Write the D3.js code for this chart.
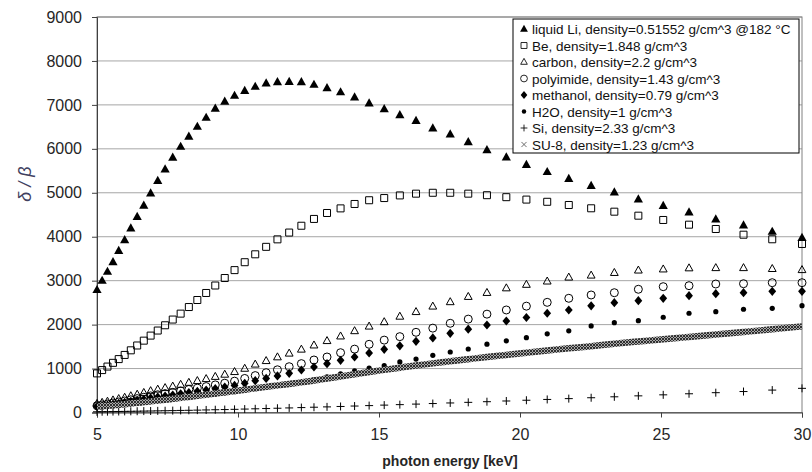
<!DOCTYPE html>
<html>
<head>
<meta charset="utf-8">
<script src="https://cdn.jsdelivr.net/npm/d3@7"></script>
<style>
  body { margin: 0; background: #fff; }
  text { font-family: "Liberation Sans Narrow", "Liberation Sans", Arial, sans-serif; }
</style>
</head>
<body>
<svg id="chart" width="812" height="472"></svg>
<script>
// photon energies [keV] of the sampled points
let energy = [5.000, 5.182, 5.371, 5.567, 5.770, 5.981, 6.199, 6.425, 6.659, 6.902,
  7.154, 7.415, 7.686, 7.966, 8.257, 8.558, 8.871, 9.194, 9.530, 9.877,
  10.238, 10.611, 10.998, 11.399, 11.815, 12.247, 12.694, 13.157, 13.637, 14.134,
  14.650, 15.185, 15.739, 16.313, 16.908, 17.526, 18.165, 18.828, 19.515, 20.227,
  20.965, 21.730, 22.523, 23.345, 24.197, 25.079, 25.994, 26.943, 27.926, 28.945, 30.000];

let liquidLi = [2790, 3000, 3205, 3425, 3680, 3925, 4190, 4455, 4710, 4990,
  5275, 5535, 5800, 6050, 6280, 6505, 6710, 6915, 7075, 7210,
  7320, 7415, 7490, 7520, 7525, 7520, 7460, 7385, 7290, 7175,
  7035, 6905, 6770, 6640, 6470, 6330, 6155, 5975, 5810, 5635,
  5475, 5320, 5160, 5010, 4852, 4706, 4556, 4397, 4260, 4115, 3978];
let be = [890, 965, 1045, 1130, 1215, 1310, 1415, 1525, 1635, 1750,
  1865, 1985, 2115, 2250, 2400, 2560, 2720, 2890, 3060, 3240,
  3420, 3600, 3770, 3940, 4095, 4250, 4405, 4540, 4645, 4745,
  4830, 4880, 4940, 4980, 5000, 5000, 4980, 4945, 4900, 4845,
  4795, 4722, 4647, 4570, 4479, 4381, 4274, 4176, 4046, 3942, 3835];
let carbon = [200, 225, 250, 280, 310, 340, 375, 410, 450, 490,
  525, 560, 595, 635, 680, 720, 765, 815, 865, 925,
  1000, 1095, 1175, 1260, 1345, 1435, 1530, 1630, 1735, 1855,
  1960, 2060, 2185, 2290, 2415, 2515, 2635, 2725, 2830, 2910,
  2985, 3075, 3120, 3180, 3235, 3260, 3285, 3290, 3290, 3270, 3245];
let polyimide = [155, 173, 193, 216, 239, 262, 289, 316, 347, 377,
  404, 431, 458, 489, 524, 555, 590, 628, 667, 713,
  775, 840, 905, 972, 1042, 1112, 1195, 1263, 1361, 1442,
  1552, 1647, 1726, 1825, 1920, 2030, 2125, 2238, 2333, 2420,
  2507, 2599, 2674, 2726, 2804, 2863, 2886, 2924, 2931, 2954, 2954];
let methanol = [138, 153, 170, 190, 210, 230, 253, 277, 302, 328,
  352, 375, 398, 424, 452, 480, 510, 543, 578, 617,
  665, 725, 775, 833, 892, 967, 1035, 1110, 1187, 1263,
  1354, 1438, 1517, 1620, 1696, 1802, 1897, 1991, 2082, 2162,
  2258, 2333, 2428, 2499, 2544, 2599, 2658, 2704, 2726, 2758, 2758];
let h2o = [120, 132, 145, 158, 172, 186, 200, 215, 231, 248,
  266, 285, 305, 326, 348, 371, 395, 420, 447, 475,
  505, 540, 575, 612, 650, 695, 748, 810, 880, 950,
  1012, 1065, 1150, 1215, 1300, 1377, 1445, 1555, 1630, 1702,
  1790, 1858, 1969, 2044, 2089, 2167, 2258, 2294, 2349, 2371, 2431];
let si = [16, 18, 19, 21, 23, 25, 27, 29, 32, 34,
  37, 40, 43, 47, 50, 54, 58, 63, 67, 72,
  78, 84, 90, 97, 104, 112, 120, 128, 137, 147,
  157, 168, 179, 191, 204, 217, 231, 246, 262, 279,
  297, 316, 336, 357, 379, 402, 426, 451, 477, 510, 550];
let su8 = [130, 140, 152, 165, 178, 190, 204, 219, 236, 253,
  271, 290, 311, 333, 355, 380, 405, 431, 459, 488,
  518, 550, 583, 617, 650, 685, 727, 772, 820, 870,
  920, 970, 1020, 1070, 1118, 1165, 1213, 1262, 1310, 1360,
  1410, 1460, 1510, 1565, 1615, 1665, 1720, 1775, 1830, 1895, 1960];

let xTicks = [5, 10, 15, 20, 25, 30];
let yTicks = [0, 1000, 2000, 3000, 4000, 5000, 6000, 7000, 8000, 9000];

// marker shapes
let shapes = {
  triFill: { d: 'M0,-5L4.6,3.2L-4.6,3.2Z', fill: '#000', stroke: 'none' },
  square: { d: 'M-3.5,-3.5H3.5V3.5H-3.5Z', fill: 'none', stroke: '#000' },
  triOpen: { d: 'M0,-4.3L3.9,2.7L-3.9,2.7Z', fill: 'none', stroke: '#000' },
  circle: { d: 'M4,0A4,4 0 1,1 -4,0A4,4 0 1,1 4,0Z', fill: 'none', stroke: '#000' },
  diamond: { d: 'M0,-4.6L3.9,0L0,4.6L-3.9,0Z', fill: '#000', stroke: 'none' },
  dot: { d: 'M2.6,0A2.6,2.6 0 1,1 -2.6,0A2.6,2.6 0 1,1 2.6,0Z', fill: '#000', stroke: 'none' },
  plus: { d: 'M-4,0H4M0,-4V4', fill: 'none', stroke: '#000' },
  cross: { d: 'M-3,-3L3,3M-3,3L3,-3', fill: 'none', stroke: '#555' }
};

let series = [
  { name: 'liquid Li, density=0.51552 g/cm^3 @182 °C', values: liquidLi, shape: 'triFill' },
  { name: 'Be, density=1.848 g/cm^3', values: be, shape: 'square' },
  { name: 'carbon, density=2.2 g/cm^3', values: carbon, shape: 'triOpen' },
  { name: 'polyimide, density=1.43 g/cm^3', values: polyimide, shape: 'circle' },
  { name: 'methanol, density=0.79 g/cm^3', values: methanol, shape: 'diamond' },
  { name: 'H2O, density=1 g/cm^3', values: h2o, shape: 'dot' },
  { name: 'Si, density=2.33 g/cm^3', values: si, shape: 'plus' },
  { name: 'SU-8, density=1.23 g/cm^3', values: su8, shape: 'cross', band: true }
];

let plotL = 97, plotR = 802, plotT = 17, plotB = 412.5;
let svg = d3.select('#chart');

let x = d3.scaleLinear().domain([5, 30]).range([plotL, plotR]);
let y = d3.scaleLinear().domain([0, 9000]).range([plotB, plotT]);

// cross hatch used for the dense SU-8 band
let pat = svg.append('defs')
  .append('pattern')
  .attr('id', 'xhatch')
  .attr('patternUnits', 'userSpaceOnUse')
  .attr('width', 3)
  .attr('height', 3);
pat.append('rect').attr('width', 3).attr('height', 3).attr('fill', '#a8a8a8');
pat.append('path')
  .attr('d', 'M0,0L3,3M0,3L3,0')
  .attr('stroke', '#222')
  .attr('stroke-width', 0.9);

// gridlines
svg.append('g')
  .selectAll('line')
  .data(yTicks.slice(1))
  .enter()
  .append('line')
  .attr('x1', plotL)
  .attr('x2', plotR)
  .attr('y1', d => y(d))
  .attr('y2', d => y(d))
  .attr('stroke', '#a6a6a6')
  .attr('stroke-width', 1);

// plot border
svg.append('rect')
  .attr('x', plotL)
  .attr('y', plotT)
  .attr('width', plotR - plotL)
  .attr('height', plotB - plotT)
  .attr('fill', 'none')
  .attr('stroke', '#808080');

// axes
let xAxis = svg.append('g')
  .attr('transform', `translate(0,${plotB})`)
  .call(d3.axisBottom(x).tickValues(xTicks).tickSize(5).tickPadding(11));
let yAxis = svg.append('g')
  .attr('transform', `translate(${plotL},0)`)
  .call(d3.axisLeft(y).tickValues(yTicks).tickSize(5).tickPadding(10).tickFormat(d3.format('d')));

[xAxis, yAxis].forEach(ax => {
  ax.select('.domain').attr('stroke', '#404040');
  ax.selectAll('.tick line').attr('stroke', '#404040');
  ax.selectAll('.tick text')
    .attr('fill', '#262626')
    .style('font-family', '"Liberation Sans", Arial, sans-serif')
    .style('font-size', '16px');
});

// series
series.forEach(s => {
  let pts = s.values.map((v, i) => [energy[i], v]);
  if (s.band) {
    svg.append('path')
      .datum(pts)
      .attr('d', d3.line().x(d => x(d[0])).y(d => y(d[1])).curve(d3.curveMonotoneX))
      .attr('fill', 'none')
      .attr('stroke', 'url(#xhatch)')
      .attr('stroke-width', 6.5);
    return;
  }
  let sh = shapes[s.shape];
  svg.append('g')
    .selectAll('path')
    .data(pts)
    .enter()
    .append('path')
    .attr('transform', d => `translate(${x(d[0])},${y(d[1])})`)
    .attr('d', sh.d)
    .attr('fill', sh.fill)
    .attr('stroke', sh.stroke)
    .attr('stroke-width', 1);
});

// legend
let lg = svg.append('g').attr('transform', 'translate(513,19)');
lg.append('rect')
  .attr('width', 286)
  .attr('height', 134)
  .attr('fill', '#fff')
  .attr('stroke', '#000');
let row = lg.selectAll('g.row')
  .data(series)
  .enter()
  .append('g')
  .attr('class', 'row')
  .attr('transform', (d, i) => `translate(11,${10 + i * 16.5})`);
row.append('path')
  .attr('d', d => shapes[d.shape].d)
  .attr('transform', 'scale(0.85)')
  .attr('fill', d => shapes[d.shape].fill)
  .attr('stroke', d => shapes[d.shape].stroke);
row.append('text')
  .attr('x', 8)
  .attr('y', 5)
  .style('font-size', '13.5px')
  .attr('fill', '#111')
  .text(d => d.name);

// axis titles
svg.append('text')
  .attr('x', 450)
  .attr('y', 466)
  .attr('text-anchor', 'middle')
  .style('font-size', '14px')
  .style('font-weight', 'bold')
  .attr('fill', '#262626')
  .text('photon energy [keV]');

svg.append('text')
  .attr('transform', 'translate(31,184) rotate(-90)')
  .attr('text-anchor', 'middle')
  .style('font-size', '18px')
  .style('font-style', 'italic')
  .attr('fill', '#404060')
  .text('δ / β');
</script>
</body>
</html>
